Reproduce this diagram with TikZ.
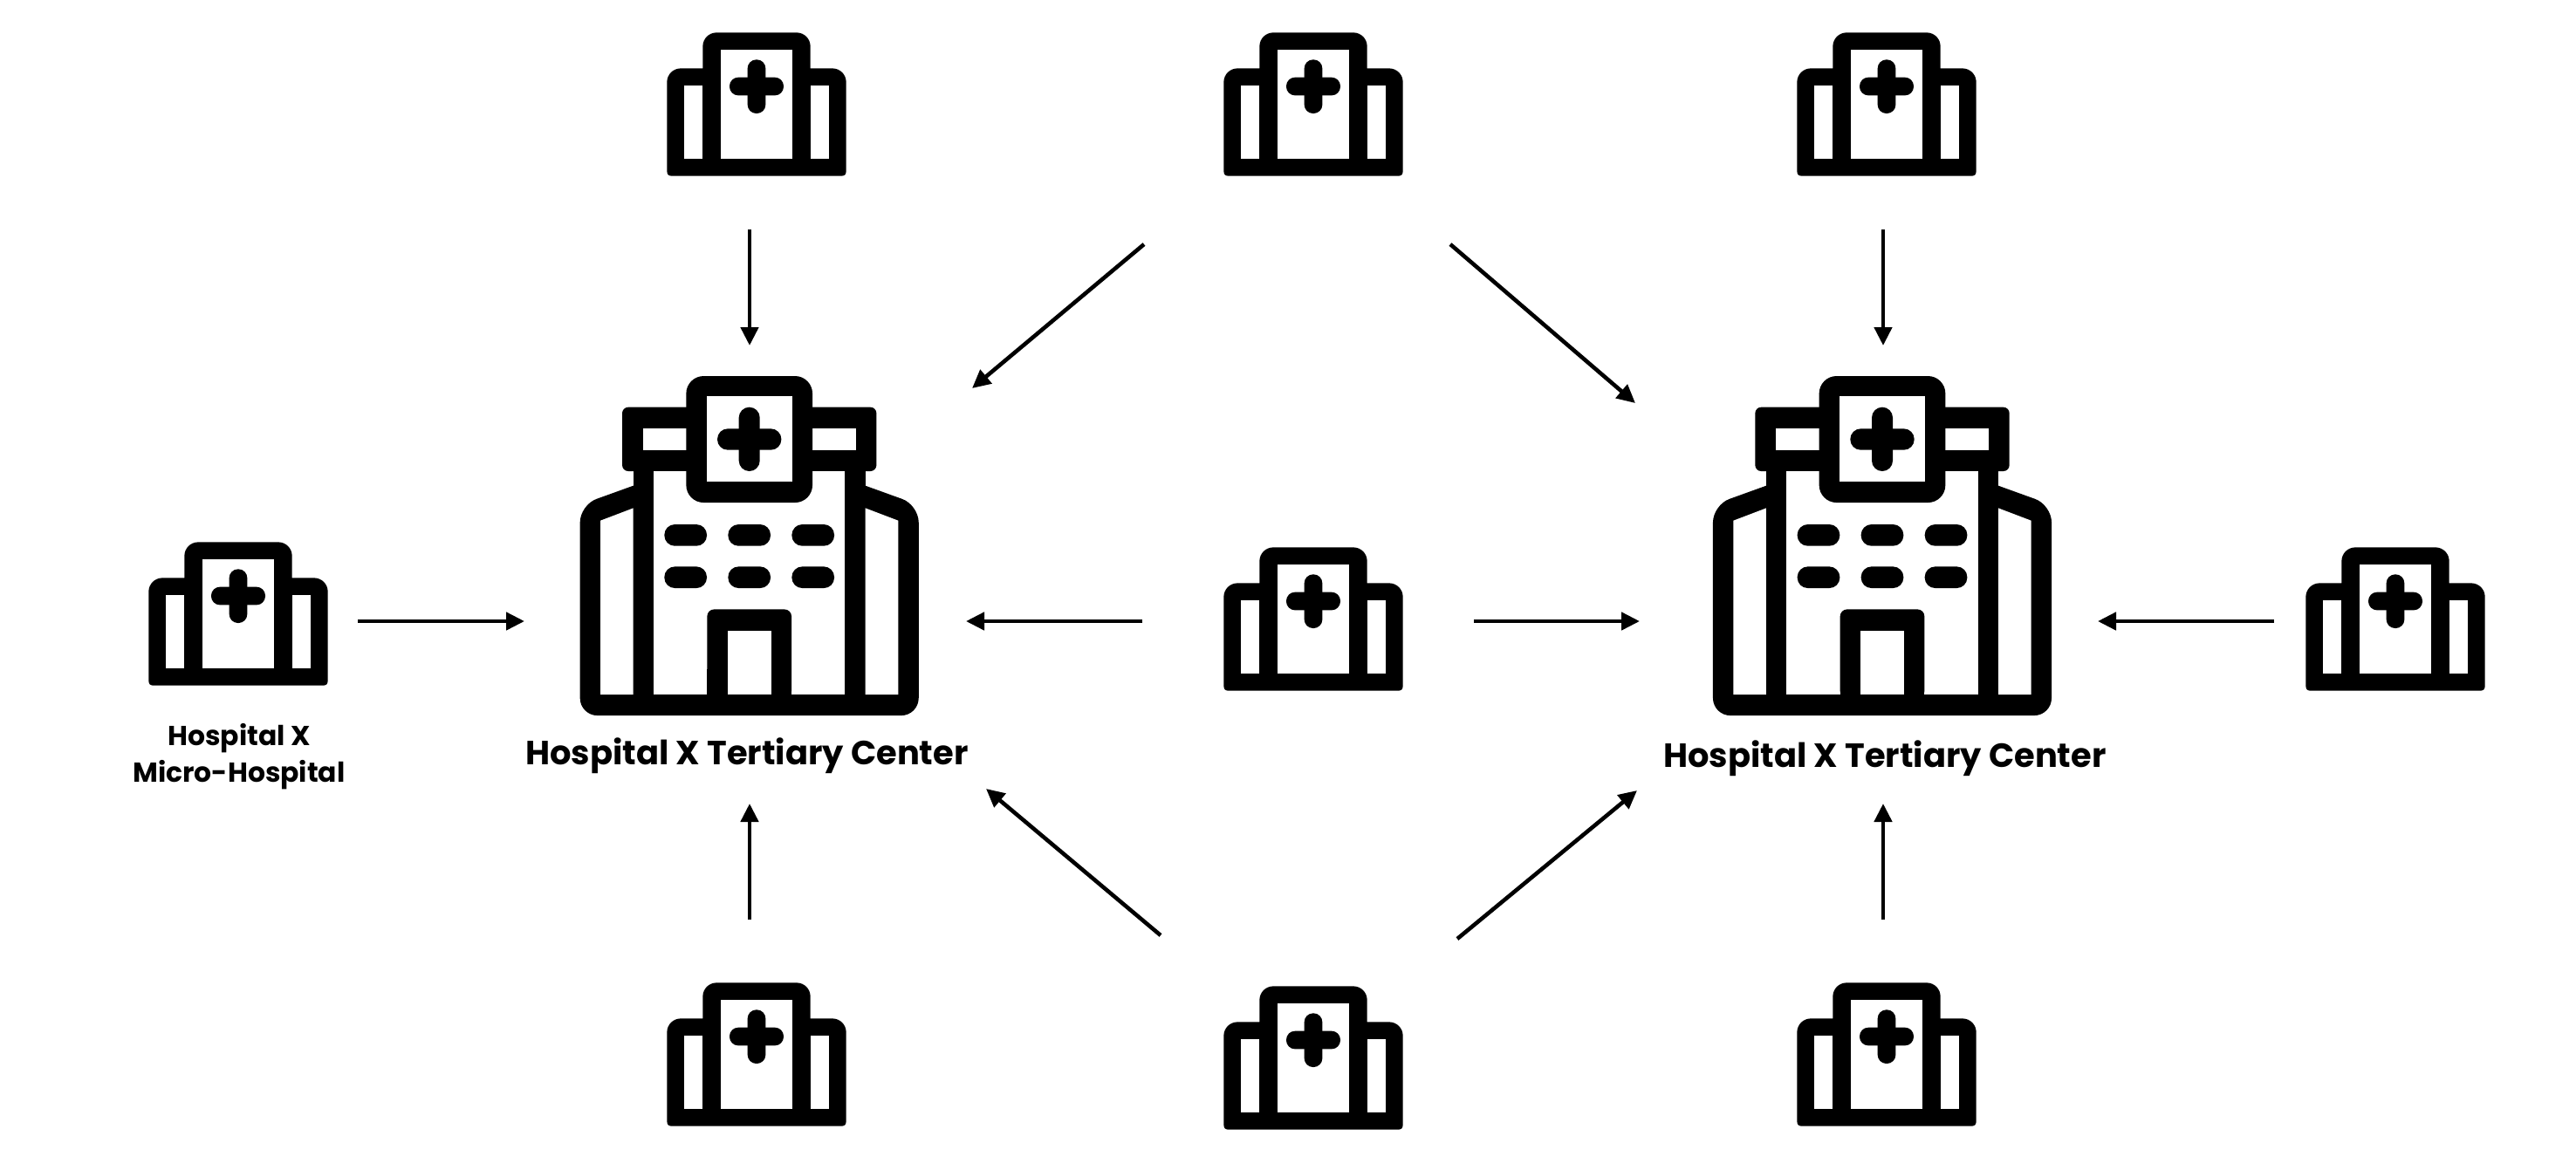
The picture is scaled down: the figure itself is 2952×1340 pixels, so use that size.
\documentclass[tikz,border=0pt]{standalone}
\usepackage{fontspec}
\setmainfont{Poppins}
\usetikzlibrary{arrows.meta}
\tikzset{
  px/.style={x=0.5pt,y=-0.5pt},
  conn/.style={line width=2.3pt,-{Triangle[length=10.5pt,width=10pt]},black},
  lab/.style={align=center,inner sep=0pt,text=black},
  bigicon/.pic={
    \begin{scope}[x=0.1667pt,y=-0.1667pt,black]
      % wings and walls
      \fill[rounded corners=10pt] (-582,1260) -- (582,1260) -- (582,536) -- (0,326) -- (-582,536) -- cycle;
      \fill (-399,300) rectangle (399,500);
      \fill[rounded corners=3.5pt] (-437,200) rectangle (437,420);
      % openings
      \fill[white] (-512,590) -- (-399,547) -- (-399,1188) -- (-512,1188) -- cycle;
      \fill[white] (512,590) -- (399,547) -- (399,1188) -- (512,1188) -- cycle;
      \fill[white] (-329,420) rectangle (329,1188);
      \fill[white] (-366,273) rectangle (366,348);
      % sign
      \fill[rounded corners=10pt] (-217,93) rectangle (217,528);
      \fill[white] (-147,163) rectangle (147,457);
      \fill[rounded corners=6pt] (-36,200) rectangle (36,420);
      \fill[rounded corners=6pt] (-110,274) rectangle (110,347);
      % windows
      \foreach \cx in {-219,0,219} \foreach \cy in {640,785}
        \fill[rounded corners=6pt] (\cx-73,\cy-37) rectangle (\cx+73,\cy+37);
      % door
      \fill[rounded corners=4pt] (-145,895) rectangle (145,1200);
      \fill (-145,1100) rectangle (145,1200);
      \fill[white] (-75,968) rectangle (75,1188);
    \end{scope}
  },
  smallicon/.pic={
    \begin{scope}[x=0.1667pt,y=-0.1667pt,black]
      \fill (-308,527) .. controls (-308,540) and (-303,545) .. (-290,545) -- (290,545)
        .. controls (303,545) and (308,540) .. (308,527) -- (308,223)
        .. controls (308,196) and (287,175) .. (260,175) -- (185,175) -- (185,100)
        .. controls (185,73) and (164,52) .. (137,52) -- (-137,52)
        .. controls (-164,52) and (-185,73) .. (-185,100) -- (-185,175) -- (-260,175)
        .. controls (-287,175) and (-308,196) .. (-308,223) -- cycle;
      \fill[white] (-248,235) rectangle (-185,485);
      \fill[white] (248,235) rectangle (185,485);
      \fill[white] (-124,112) rectangle (124,485);
      \fill[rounded corners=5pt] (-31,145) rectangle (31,330);
      \fill[rounded corners=5pt] (-93,206) rectangle (93,268);
    \end{scope}
  }
}
\begin{document}
\begin{tikzpicture}[px]
\useasboundingbox (0,0) rectangle (2952,1340);
\fill[white] (0,0) rectangle (2952,1340);
% big icons
\pic at (858.7,400) {bigicon};
\pic at (2157,400) {bigicon};
% small icons
\foreach \x/\y in {867/20,1505/20,2162/20,273/604,1505/610,2745/610,867/1109,1505/1113,2162/1109}
  \pic at (\x,\y) {smallicon};
% labels
\node[lab,font=\bfseries\fontsize{19.2}{24}\selectfont] (ta) at (856,866) {Hospital X Tertiary Center};
\node[lab,font=\bfseries\fontsize{19.2}{24}\selectfont] (tb) at (2160,869) {Hospital X Tertiary Center};
\node[lab,font=\bfseries\fontsize{15.7}{21}\selectfont] (tm) at (274,867) {Hospital X\\Micro-Hospital};
% connector ends
\coordinate (a1) at (859,263); \coordinate (a2) at (859,396);
\coordinate (b1) at (1311,280); \coordinate (b2) at (1114,445);
\coordinate (c1) at (1662,280); \coordinate (c2) at (1874,462);
\coordinate (d1) at (2158,263); \coordinate (d2) at (2158,396);
\coordinate (e1) at (410,712); \coordinate (e2) at (601,712);
\coordinate (f1) at (1309,712); \coordinate (f2) at (1107,712);
\coordinate (g1) at (1689,712); \coordinate (g2) at (1879,712);
\coordinate (h1) at (2606,712); \coordinate (h2) at (2404,712);
\coordinate (i1) at (859,1054); \coordinate (i2) at (859,921);
\coordinate (j1) at (1330,1072); \coordinate (j2) at (1130,904);
\coordinate (k1) at (1670,1076); \coordinate (k2) at (1876,906);
\coordinate (l1) at (2158,1054); \coordinate (l2) at (2158,921);
\foreach \s in {a,b,c,d,e,f,g,h,i,j,k,l}
  \draw[conn] (\s1) -- (\s2);
\end{tikzpicture}
\end{document}
